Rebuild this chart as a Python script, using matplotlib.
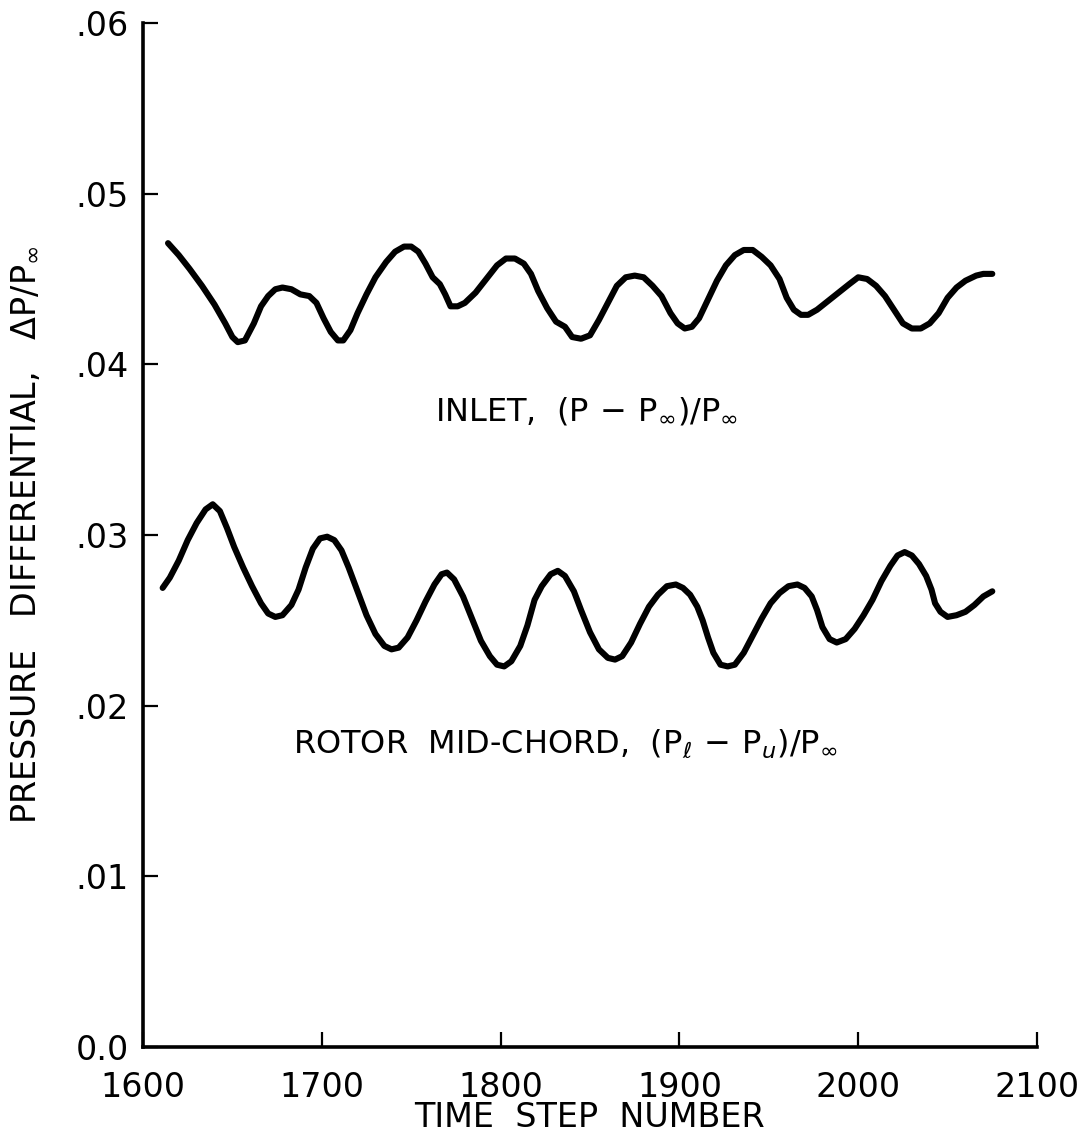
import matplotlib.pyplot as plt

# time step numbers and pressure values
inlet_steps = [1614, 1620, 1626, 1633, 1640, 1646, 1650, 1653, 1657, 1662,
               1666, 1670, 1674, 1678, 1683, 1688, 1693, 1697, 1701, 1705,
               1709, 1712, 1716, 1720, 1725, 1730, 1736, 1741, 1746, 1750,
               1754, 1758, 1762, 1766, 1769, 1772, 1776, 1780, 1786, 1792,
               1798, 1803, 1808, 1813, 1817, 1821, 1826, 1831, 1836, 1840,
               1845, 1850, 1855, 1860, 1865, 1870, 1875, 1880, 1885, 1890,
               1895, 1899, 1903, 1907, 1911, 1916, 1921, 1926, 1931, 1936,
               1941, 1946, 1951, 1956, 1960, 1964, 1968, 1972, 1977, 1983,
               1989, 1995, 2000, 2005, 2010, 2015, 2020, 2025, 2030, 2035,
               2040, 2045, 2050, 2055, 2060, 2066, 2070, 2075]
inlet_dp = [0.0471, 0.0464, 0.0456, 0.0446, 0.0435, 0.0424, 0.0416, 0.0413, 0.0414, 0.0424,
            0.0434, 0.0440, 0.0444, 0.0445, 0.0444, 0.0441, 0.0440, 0.0436, 0.0427, 0.0419,
            0.0414, 0.0414, 0.0420, 0.0430, 0.0441, 0.0451, 0.0460, 0.0466, 0.0469, 0.0469,
            0.0466, 0.0459, 0.0451, 0.0447, 0.0441, 0.0434, 0.0434, 0.0436, 0.0442, 0.0450,
            0.0458, 0.0462, 0.0462, 0.0459, 0.0453, 0.0443, 0.0433, 0.0425, 0.0422, 0.0416,
            0.0415, 0.0417, 0.0426, 0.0436, 0.0446, 0.0451, 0.0452, 0.0451, 0.0446, 0.0440,
            0.0430, 0.0424, 0.0421, 0.0422, 0.0427, 0.0438, 0.0449, 0.0458, 0.0464, 0.0467,
            0.0467, 0.0463, 0.0458, 0.0450, 0.0439, 0.0432, 0.0429, 0.0429, 0.0432, 0.0437,
            0.0442, 0.0447, 0.0451, 0.0450, 0.0446, 0.0440, 0.0432, 0.0424, 0.0421, 0.0421,
            0.0424, 0.0430, 0.0439, 0.0445, 0.0449, 0.0452, 0.0453, 0.0453]

rotor_steps = [1611, 1615, 1620, 1625, 1630, 1635, 1639, 1643, 1647, 1651,
               1656, 1661, 1666, 1670, 1674, 1678, 1683, 1687, 1691, 1695,
               1699, 1703, 1707, 1711, 1715, 1720, 1725, 1730, 1735, 1739,
               1743, 1748, 1753, 1758, 1763, 1767, 1770, 1774, 1779, 1784,
               1789, 1794, 1798, 1802, 1806, 1811, 1815, 1819, 1823, 1828,
               1832, 1836, 1841, 1845, 1850, 1855, 1860, 1864, 1868, 1873,
               1878, 1883, 1888, 1893, 1898, 1902, 1906, 1910, 1913, 1916,
               1919, 1923, 1927, 1931, 1936, 1941, 1946, 1951, 1956, 1961,
               1966, 1970, 1974, 1977, 1980, 1984, 1988, 1993, 1998, 2003,
               2008, 2013, 2018, 2022, 2026, 2030, 2034, 2038, 2041, 2043,
               2046, 2050, 2055, 2060, 2065, 2070, 2075]
rotor_dp = [0.0269, 0.0275, 0.0285, 0.0297, 0.0307, 0.0315, 0.0318, 0.0314, 0.0304, 0.0293,
            0.0281, 0.0270, 0.0260, 0.0254, 0.0252, 0.0253, 0.0259, 0.0268, 0.0281, 0.0292,
            0.0298, 0.0299, 0.0297, 0.0291, 0.0281, 0.0267, 0.0253, 0.0242, 0.0235, 0.0233,
            0.0234, 0.0240, 0.0250, 0.0261, 0.0271, 0.0277, 0.0278, 0.0274, 0.0264, 0.0251,
            0.0238, 0.0229, 0.0224, 0.0223, 0.0226, 0.0235, 0.0247, 0.0262, 0.0270, 0.0277,
            0.0279, 0.0276, 0.0267, 0.0256, 0.0243, 0.0233, 0.0228, 0.0227, 0.0229, 0.0237,
            0.0248, 0.0258, 0.0265, 0.0270, 0.0271, 0.0269, 0.0265, 0.0258, 0.0250, 0.0240,
            0.0231, 0.0224, 0.0223, 0.0224, 0.0231, 0.0241, 0.0251, 0.0260, 0.0266, 0.0270,
            0.0271, 0.0269, 0.0264, 0.0256, 0.0246, 0.0239, 0.0237, 0.0239, 0.0245, 0.0253,
            0.0262, 0.0273, 0.0282, 0.0288, 0.0290, 0.0288, 0.0283, 0.0276, 0.0268, 0.0260,
            0.0255, 0.0252, 0.0253, 0.0255, 0.0259, 0.0264, 0.0267]

x_ticks = [1600, 1700, 1800, 1900, 2000, 2100]
y_ticks = [0.0, 0.01, 0.02, 0.03, 0.04, 0.05, 0.06]
y_tick_labels = ["0.0", ".01", ".02", ".03", ".04", ".05", ".06"]

plt.rcParams['font.family'] = ['DejaVu Sans']

fig = plt.figure(figsize=(10.85, 11.38), dpi=100)
ax = fig.add_axes([143 / 1085, 1 - 1047 / 1138, (1037 - 143) / 1085, (1047 - 23) / 1138])

ax.plot(inlet_steps, inlet_dp, color='black', lw=4.4, solid_joinstyle='round', solid_capstyle='round')
ax.plot(rotor_steps, rotor_dp, color='black', lw=4.4, solid_joinstyle='round', solid_capstyle='round')

ax.set_xlim(1600, 2100)
ax.set_ylim(0, 0.06)
ax.set_xticks(x_ticks)
ax.set_xticklabels([str(t) for t in x_ticks])
ax.set_yticks(y_ticks)
ax.set_yticklabels(y_tick_labels)

ax.spines['top'].set_visible(False)
ax.spines['right'].set_visible(False)
ax.spines['left'].set_linewidth(2.6)
ax.spines['bottom'].set_linewidth(2.6)
ax.tick_params(direction='in', length=11, width=1.6, labelsize=24)
ax.tick_params(axis='x', pad=17)
ax.tick_params(axis='y', pad=10)

ax.set_xlabel("TIME  STEP  NUMBER", fontsize=24, labelpad=-2)
ax.set_ylabel(r"PRESSURE   DIFFERENTIAL,   $\Delta$P/P$_\infty$", fontsize=24, labelpad=24)

ax.text(1848, 0.0372, r"INLET,  (P$\,-\,$P$_\infty$)/P$_\infty$", fontsize=23, ha='center', va='center')
ax.text(1836, 0.0178, r"ROTOR  MID-CHORD,  (P$_\ell$$\,-\,$P$_u$)/P$_\infty$", fontsize=23,
        ha='center', va='center')

fig.savefig("out.png", dpi=100)
